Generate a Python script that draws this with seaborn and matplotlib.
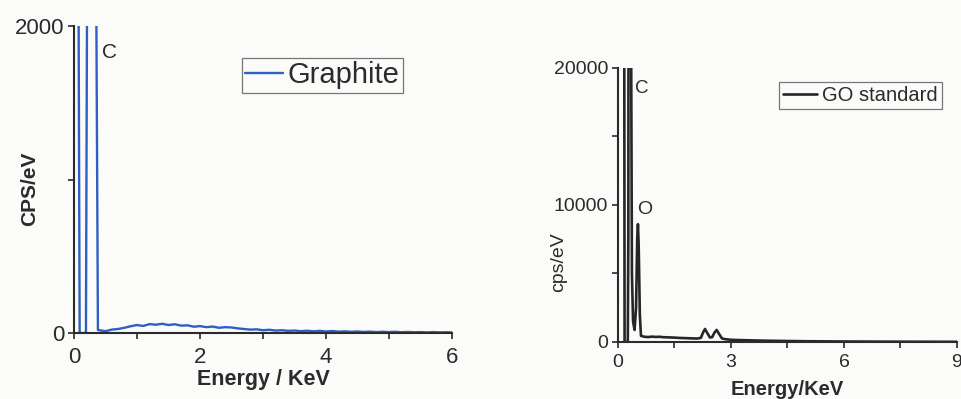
import matplotlib
matplotlib.use("Agg")
import matplotlib.pyplot as plt
from matplotlib.ticker import MultipleLocator
import seaborn as sns
import pandas as pd

# EDS spectrum of graphite (energy in keV, counts per second per eV)
graphite_energy = [0.00, 0.07, 0.09, 0.19, 0.21, 0.28, 0.35, 0.38,
                   0.4, 0.5, 0.6, 0.7, 0.8, 0.9, 1.0, 1.1, 1.2, 1.3, 1.4, 1.5,
                   1.6, 1.7, 1.8, 1.9, 2.0, 2.1, 2.2, 2.3, 2.4, 2.5, 2.6, 2.7,
                   2.8, 2.9, 3.0, 3.1, 3.2, 3.3, 3.4, 3.5, 3.6, 3.7, 3.8, 3.9,
                   4.0, 4.1, 4.2, 4.3, 4.4, 4.5, 4.6, 4.7, 4.8, 4.9, 5.0, 5.1,
                   5.2, 5.3, 5.4, 5.5, 5.6, 5.7, 5.8, 5.9, 6.0]
graphite_cps = [25000, 2500, 0, 0, 2500, 60000, 2500, 20,
                18, 12, 22, 26, 34, 44, 52, 46, 58, 54, 60, 52,
                57, 48, 50, 41, 45, 38, 42, 34, 38, 36, 30, 26,
                22, 24, 18, 21, 16, 18, 14, 16, 12, 15, 11, 14,
                10, 13, 9, 11, 8, 10, 7, 9, 6, 8, 6, 8,
                5, 7, 5, 6, 4, 6, 4, 5, 4]

# EDS spectrum of the graphene oxide standard
go_energy = [0.00, 0.16, 0.175, 0.26, 0.275, 0.31, 0.345, 0.37, 0.40, 0.44,
             0.48, 0.51, 0.53, 0.55, 0.58, 0.61, 0.7, 0.8, 0.9, 1.0, 1.1,
             1.2, 1.3, 1.4, 1.5, 1.6, 1.7, 1.8, 1.9, 2.0, 2.1, 2.2, 2.26,
             2.31, 2.36, 2.44, 2.5, 2.56, 2.62, 2.68, 2.76, 2.85, 3.0, 3.2,
             3.5, 4.0, 4.5, 5.0, 5.5, 6.0, 6.5, 7.0, 7.5, 8.0, 8.5, 9.0]
go_cps = [60000, 40000, 0, 0, 8000, 150000, 25000, 5000, 1500, 880,
          2500, 7500, 8600, 7000, 2000, 450, 380, 360, 390, 370, 380,
          350, 340, 330, 320, 300, 290, 280, 270, 260, 250, 300, 700,
          950, 700, 330, 350, 680, 880, 600, 260, 200, 160, 140,
          120, 90, 70, 55, 45, 35, 30, 25, 20, 18, 15, 12]

graphite = pd.DataFrame({"energy": graphite_energy, "cps": graphite_cps})
go = pd.DataFrame({"energy": go_energy, "cps": go_cps})

sns.set_theme(style="ticks")
plt.rcParams["font.family"] = ["Liberation Sans", "DejaVu Sans"]

ink = "#2b2b2b"
paper = "#fbfbf9"

fig = plt.figure(figsize=(9.62, 3.99), dpi=100, facecolor=paper)

ax1 = fig.add_axes([0.0769, 0.1654, 0.3930, 0.7694], facecolor=paper)
ax2 = fig.add_axes([0.6424, 0.1429, 0.3524, 0.6867], facecolor=paper)

sns.lineplot(data=graphite, x="energy", y="cps", ax=ax1, sort=False,
             estimator=None, color="#2d5fc4", linewidth=1.7, label="Graphite")
sns.lineplot(data=go, x="energy", y="cps", ax=ax2, sort=False,
             estimator=None, color="#262626", linewidth=1.9, label="GO standard")

# Left panel: graphite
ax1.set_xlim(0, 6)
ax1.set_ylim(0, 2000)
ax1.set_xticks([0, 2, 4, 6])
ax1.set_yticks([0, 2000])
ax1.xaxis.set_minor_locator(MultipleLocator(1))
ax1.yaxis.set_minor_locator(MultipleLocator(1000))
ax1.tick_params(axis="both", which="both", direction="out", length=4,
                width=1.2, color=ink, labelsize=16, labelcolor=ink, pad=3)
ax1.tick_params(axis="x", which="both", pad=6)
ax1.set_xlabel("Energy / KeV", fontsize=15.5, fontweight="bold", color=ink)
ax1.set_ylabel("CPS/eV", fontsize=15, fontweight="bold", color=ink)
ax1.xaxis.set_label_coords(0.5, -0.118)
ax1.yaxis.set_label_coords(-0.093, 0.47)
ax1.text(0.57, 1830, "C", fontsize=15, color=ink, ha="center", va="center")
leg1 = ax1.legend(loc="upper right", bbox_to_anchor=(0.870, 0.896),
                  fontsize=21, frameon=True, fancybox=False, borderpad=0.12,
                  borderaxespad=0, handlelength=1.3, handletextpad=0.15)
leg1.get_frame().set_edgecolor("#555555")
leg1.get_frame().set_linewidth(0.9)
leg1.get_frame().set_facecolor(paper)
for t in leg1.get_texts():
    t.set_color(ink)

# Right panel: GO standard
ax2.set_xlim(0, 9)
ax2.set_ylim(0, 20000)
ax2.set_xticks([0, 3, 6, 9])
ax2.set_yticks([0, 10000, 20000])
ax2.xaxis.set_minor_locator(MultipleLocator(1.5))
ax2.yaxis.set_minor_locator(MultipleLocator(5000))
ax2.tick_params(axis="both", which="both", direction="out", length=4,
                width=1.2, color=ink, labelsize=14, labelcolor=ink, pad=3)
ax2.tick_params(axis="x", which="both", pad=5)
ax2.set_xlabel("Energy/KeV", fontsize=14.5, fontweight="bold", color=ink)
ax2.set_ylabel("cps/eV", fontsize=14, color=ink)
ax2.xaxis.set_label_coords(0.5, -0.14)
ax2.yaxis.set_label_coords(-0.15, 0.29)
ax2.text(0.62, 18500, "C", fontsize=13.5, color=ink, ha="center", va="center")
ax2.text(0.72, 9640, "O", fontsize=14, color=ink, ha="center", va="center")
leg2 = ax2.legend(loc="upper right", bbox_to_anchor=(0.956, 0.949),
                  fontsize=14.5, frameon=True, fancybox=False, borderpad=0.2,
                  borderaxespad=0, handlelength=1.7, handletextpad=0.25)
leg2.get_frame().set_edgecolor("#555555")
leg2.get_frame().set_linewidth(0.9)
leg2.get_frame().set_facecolor(paper)
for t in leg2.get_texts():
    t.set_color(ink)

for ax in (ax1, ax2):
    sns.despine(ax=ax)
    for side in ("left", "bottom"):
        ax.spines[side].set_color(ink)
        ax.spines[side].set_linewidth(1.5)

fig.savefig("out.png", dpi=100, facecolor=paper)
